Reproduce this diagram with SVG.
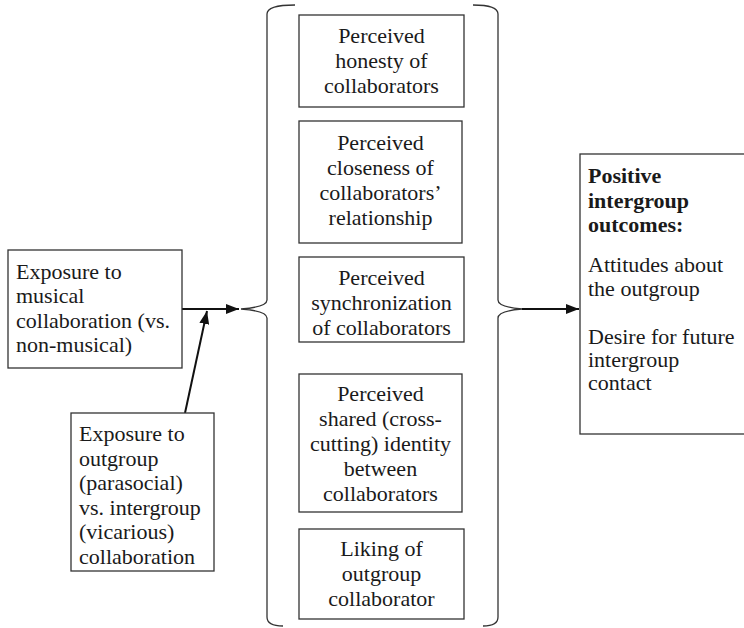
<svg xmlns="http://www.w3.org/2000/svg" width="744" height="628" viewBox="0 0 744 628" font-family="Liberation Serif, Times New Roman, serif">
<style>
svg text, g text, text{font-family:'Liberation Serif','Times New Roman',serif !important;font-size:22px;fill:#1a1a1a}
.box{fill:#fff;stroke:#333;stroke-width:1.3}
.c{text-anchor:middle}
.b{font-weight:bold}
.ln{stroke:#111;stroke-width:2;fill:none}
.br{stroke:#333;stroke-width:1.3;fill:none}
</style>
<defs>
<marker id="ah" viewBox="0 0 13 10" refX="13" refY="5" markerWidth="13" markerHeight="10" markerUnits="userSpaceOnUse" orient="auto">
<path d="M0,0 L13,5 L0,10 Z" fill="#111"/>
</marker>
</defs>
<rect width="744" height="628" fill="#fff"/>
<g id="connectors">
<line class="ln" x1="182" y1="309" x2="239" y2="309" marker-end="url(#ah)"/>
<line class="ln" x1="185" y1="413" x2="207" y2="311" marker-end="url(#ah)"/>
<line class="ln" x1="522" y1="309" x2="579" y2="309" marker-end="url(#ah)"/>
<path class="br" d="M295,5 Q267,5 267,14 L267,300 Q267,307 241,309 Q267,311 267,318 L267,617 Q267,626 283,626"/>
<path class="br" d="M473,5 Q498,5 498,14 L498,300 Q498,307 522,309 Q498,311 498,318 L498,617 Q498,626 483,626"/>
</g>
<g id="musical">
<rect class="box" x="8" y="250" width="174" height="118"/>
<text font-family="Liberation Serif" x="16" y="278.5">Exposure to</text>
<text font-family="Liberation Serif" x="16" y="303">musical</text>
<text font-family="Liberation Serif" x="16" y="327.5">collaboration (vs.</text>
<text font-family="Liberation Serif" x="16" y="352">non-musical)</text>
</g>
<g id="outgroup">
<rect class="box" x="71" y="413" width="143" height="158"/>
<text font-family="Liberation Serif" x="79" y="441">Exposure to</text>
<text font-family="Liberation Serif" x="79" y="465.5">outgroup</text>
<text font-family="Liberation Serif" x="79" y="490">(parasocial)</text>
<text font-family="Liberation Serif" x="79" y="514.5">vs. intergroup</text>
<text font-family="Liberation Serif" x="79" y="539">(vicarious)</text>
<text font-family="Liberation Serif" x="79" y="563.5">collaboration</text>
</g>
<g id="honesty">
<rect class="box" x="299" y="15" width="165" height="92"/>
<text class="c" font-family="Liberation Serif" x="381.5" y="43">Perceived</text>
<text class="c" font-family="Liberation Serif" x="381.5" y="68">honesty of</text>
<text class="c" font-family="Liberation Serif" x="381.5" y="93">collaborators</text>
</g>
<g id="closeness">
<rect class="box" x="299" y="121" width="163" height="122"/>
<text class="c" font-family="Liberation Serif" x="380.5" y="150">Perceived</text>
<text class="c" font-family="Liberation Serif" x="380.5" y="175">closeness of</text>
<text class="c" font-family="Liberation Serif" x="380.5" y="200">collaborators’</text>
<text class="c" font-family="Liberation Serif" x="380.5" y="225">relationship</text>
</g>
<g id="synchronization">
<rect class="box" x="299" y="257" width="165" height="85"/>
<text class="c" font-family="Liberation Serif" x="381.5" y="285">Perceived</text>
<text class="c" font-family="Liberation Serif" x="381.5" y="310">synchronization</text>
<text class="c" font-family="Liberation Serif" x="381.5" y="335">of collaborators</text>
</g>
<g id="shared">
<rect class="box" x="299" y="374" width="163" height="138"/>
<text class="c" font-family="Liberation Serif" x="380.5" y="401">Perceived</text>
<text class="c" font-family="Liberation Serif" x="380.5" y="426">shared (cross-</text>
<text class="c" font-family="Liberation Serif" x="380.5" y="451">cutting) identity</text>
<text class="c" font-family="Liberation Serif" x="380.5" y="476">between</text>
<text class="c" font-family="Liberation Serif" x="380.5" y="501">collaborators</text>
</g>
<g id="liking">
<rect class="box" x="299" y="529" width="165" height="90"/>
<text class="c" font-family="Liberation Serif" x="381.5" y="556">Liking of</text>
<text class="c" font-family="Liberation Serif" x="381.5" y="581">outgroup</text>
<text class="c" font-family="Liberation Serif" x="381.5" y="606">collaborator</text>
</g>
<g id="outcomes">
<rect class="box" x="580" y="154" width="170" height="280"/>
<text class="b" font-family="Liberation Serif" x="588" y="183">Positive</text>
<text class="b" font-family="Liberation Serif" x="588" y="207.5">intergroup</text>
<text class="b" font-family="Liberation Serif" x="588" y="232">outcomes:</text>
<text font-family="Liberation Serif" x="588" y="272">Attitudes about</text>
<text font-family="Liberation Serif" x="588" y="296">the outgroup</text>
<text font-family="Liberation Serif" x="588" y="344">Desire for future</text>
<text font-family="Liberation Serif" x="588" y="367">intergroup</text>
<text font-family="Liberation Serif" x="588" y="390">contact</text>
</g>
</svg>
